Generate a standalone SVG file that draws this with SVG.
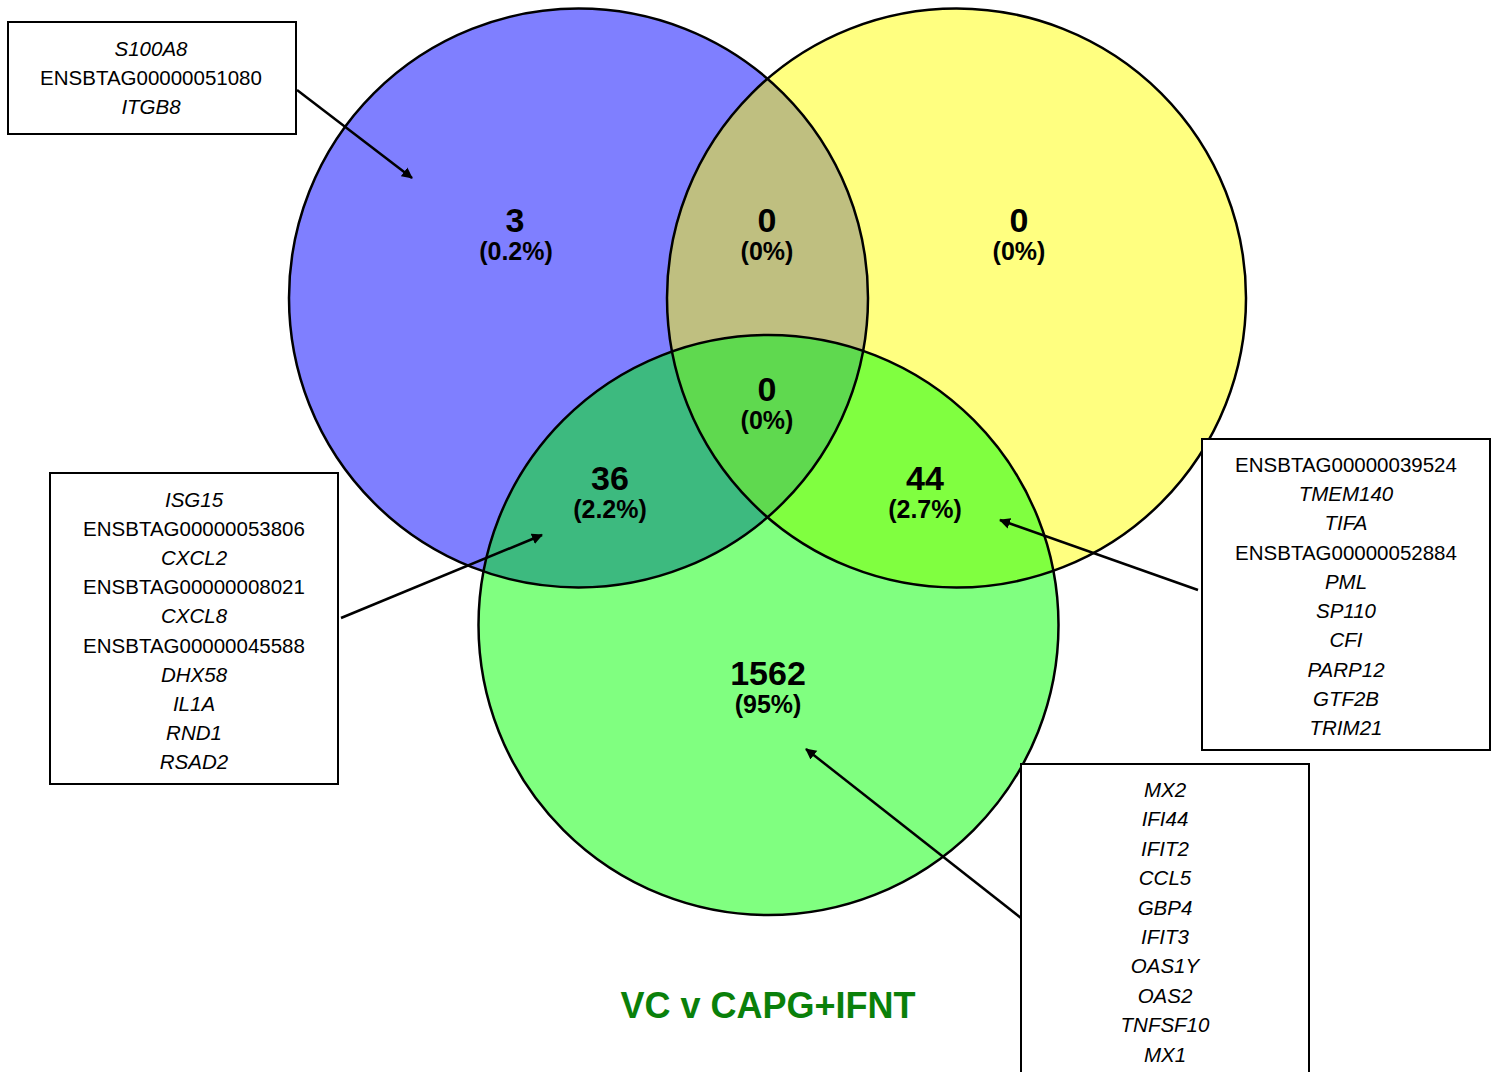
<svg xmlns="http://www.w3.org/2000/svg" width="1500" height="1072" viewBox="0 0 1500 1072">
<style>
.num{font-family:"Liberation Sans",Arial,sans-serif;font-weight:bold;font-size:34px;text-anchor:middle;fill:#000}
.pct{font-family:"Liberation Sans",Arial,sans-serif;font-weight:bold;font-size:25px;text-anchor:middle;fill:#000}
.box{fill:#fff;stroke:#000;stroke-width:2}
.g{font-family:"Liberation Sans",Arial,sans-serif;font-size:20.5px;text-anchor:middle;fill:#000}
.i{font-style:italic}
.ring{fill:none;stroke:#000;stroke-width:2.5}
.conn{stroke:#000;stroke-width:2.5;fill:none;marker-end:url(#ah)}
.title{font-family:"Liberation Sans",Arial,sans-serif;font-weight:bold;font-size:36px;text-anchor:middle;fill:#0a800a}
</style>
<defs>
<marker id="ah" viewBox="-10 -6 12 12" refX="0" refY="0" markerWidth="12" markerHeight="12" markerUnits="userSpaceOnUse" orient="auto">
<path d="M-10,-5.5 L1,0 L-10,5.5 z" fill="#000"/>
</marker>
<clipPath id="cB"><circle cx="578.5" cy="298" r="289.5"/></clipPath>
<clipPath id="cY"><circle cx="956.5" cy="298" r="289.5"/></clipPath>
</defs>
<rect width="1500" height="1072" fill="#fff"/>
<g id="venn">
<circle cx="578.5" cy="298" r="289.5" fill="#7f7fff"/>
<circle cx="956.5" cy="298" r="289.5" fill="#ffff80"/>
<circle cx="768.5" cy="625" r="290" fill="#80ff80"/>
<circle cx="956.5" cy="298" r="289.5" fill="#bfbf80" clip-path="url(#cB)"/>
<circle cx="768.5" cy="625" r="290" fill="#3dba7f" clip-path="url(#cB)"/>
<circle cx="768.5" cy="625" r="290" fill="#80ff40" clip-path="url(#cY)"/>
<g clip-path="url(#cB)"><circle cx="768.5" cy="625" r="290" fill="#5fd94f" clip-path="url(#cY)"/></g>
<circle class="ring" cx="578.5" cy="298" r="289.5"/>
<circle class="ring" cx="956.5" cy="298" r="289.5"/>
<circle class="ring" cx="768.5" cy="625" r="290"/>
</g>
<g id="counts">
<text class="num" x="515" y="232">3</text><text class="pct" x="516" y="260">(0.2%)</text>
<text class="num" x="767" y="232">0</text><text class="pct" x="767" y="260">(0%)</text>
<text class="num" x="1019" y="232">0</text><text class="pct" x="1019" y="260">(0%)</text>
<text class="num" x="767" y="401">0</text><text class="pct" x="767" y="429">(0%)</text>
<text class="num" x="610" y="490">36</text><text class="pct" x="610" y="518">(2.2%)</text>
<text class="num" x="925" y="490">44</text><text class="pct" x="925" y="518">(2.7%)</text>
<text class="num" x="768" y="685">1562</text><text class="pct" x="768" y="713">(95%)</text>
</g>
<g id="connectors">
<line class="conn" x1="297" y1="90" x2="412" y2="178"/>
<line class="conn" x1="341" y1="618" x2="542" y2="535"/>
<line class="conn" x1="1198" y1="590" x2="1000" y2="520"/>
<line class="conn" x1="1021" y1="918" x2="806" y2="749"/>
</g>
<g id="box1">
<rect class="box" x="8" y="22" width="288" height="112"/>
<text class="g i" x="151" y="56">S100A8</text>
<text class="g" x="151" y="85">ENSBTAG00000051080</text>
<text class="g i" x="151" y="114">ITGB8</text>
</g>
<g id="box2">
<rect class="box" x="50" y="473" width="288" height="311"/>
<text class="g i" x="194" y="507">ISG15</text>
<text class="g" x="194" y="536">ENSBTAG00000053806</text>
<text class="g i" x="194" y="565">CXCL2</text>
<text class="g" x="194" y="594">ENSBTAG00000008021</text>
<text class="g i" x="194" y="623">CXCL8</text>
<text class="g" x="194" y="653">ENSBTAG00000045588</text>
<text class="g i" x="194" y="682">DHX58</text>
<text class="g i" x="194" y="711">IL1A</text>
<text class="g i" x="194" y="740">RND1</text>
<text class="g i" x="194" y="769">RSAD2</text>
</g>
<g id="box3">
<rect class="box" x="1202" y="439" width="288" height="311"/>
<text class="g" x="1346" y="472">ENSBTAG00000039524</text>
<text class="g i" x="1346" y="501">TMEM140</text>
<text class="g i" x="1346" y="530">TIFA</text>
<text class="g" x="1346" y="560">ENSBTAG00000052884</text>
<text class="g i" x="1346" y="589">PML</text>
<text class="g i" x="1346" y="618">SP110</text>
<text class="g i" x="1346" y="647">CFI</text>
<text class="g i" x="1346" y="677">PARP12</text>
<text class="g i" x="1346" y="706">GTF2B</text>
<text class="g i" x="1346" y="735">TRIM21</text>
</g>
<g id="box4">
<rect class="box" x="1021" y="764" width="288" height="320"/>
<text class="g i" x="1165" y="797">MX2</text>
<text class="g i" x="1165" y="826">IFI44</text>
<text class="g i" x="1165" y="856">IFIT2</text>
<text class="g i" x="1165" y="885">CCL5</text>
<text class="g i" x="1165" y="915">GBP4</text>
<text class="g i" x="1165" y="944">IFIT3</text>
<text class="g i" x="1165" y="973">OAS1Y</text>
<text class="g i" x="1165" y="1003">OAS2</text>
<text class="g i" x="1165" y="1032">TNFSF10</text>
<text class="g i" x="1165" y="1062">MX1</text>
</g>
<text id="title" class="title" x="768" y="1018">VC v CAPG+IFNT</text>
</svg>
